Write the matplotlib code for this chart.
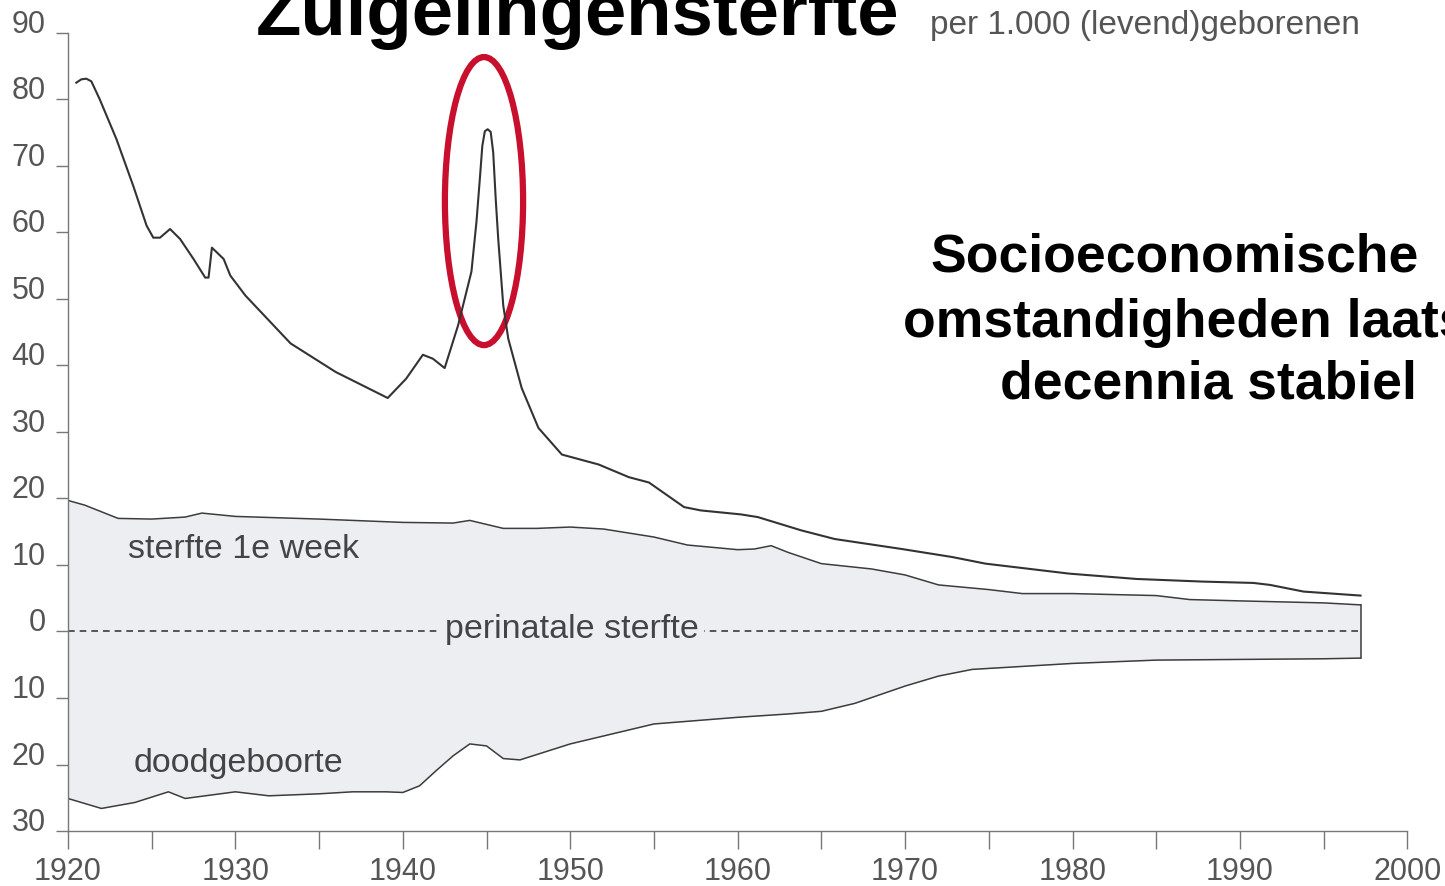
import matplotlib.pyplot as plt
from matplotlib.patches import Ellipse

plt.rcParams['font.family'] = ['Liberation Sans', 'DejaVu Sans']

# zuigelingensterfte (per 1000 levendgeborenen)
inf_years = [1920.5, 1920.8, 1921.1, 1921.4, 1921.9, 1922.9, 1923.9, 1924.7, 1925.1, 1925.5,
             1926.1, 1926.7, 1927.5, 1928.2, 1928.4, 1928.6, 1929.3, 1929.7, 1930.6,
             1933.3, 1936, 1939.1, 1940.2, 1941.2, 1941.8, 1942.5, 1943.3, 1944.1,
             1944.4, 1944.6, 1944.75, 1944.9, 1945.07, 1945.25, 1945.4, 1945.55, 1945.7,
             1946.0, 1946.3, 1947.1, 1948.1, 1949.5, 1951.7, 1953.5, 1954.7, 1956.8,
             1957.8, 1960.2, 1961.2, 1963.8, 1965.8, 1969.8, 1972.8, 1974.8, 1979.8,
             1983.8, 1987.8, 1990.8, 1991.8, 1993.8, 1997.2]
inf_vals = [82.5, 83.0, 83.1, 82.7, 80, 74, 67, 61, 59.2, 59.2,
            60.5, 59, 56, 53.2, 53.2, 57.7, 56, 53.5, 50.5,
            43.3, 39.0, 35.1, 38.0, 41.6, 41.0, 39.6, 46, 54.1,
            61.6, 68, 73, 75.2, 75.5, 75.1, 72, 65, 59,
            49, 44, 36.6, 30.6, 26.6, 25.1, 23.2, 22.4, 18.7,
            18.2, 17.6, 17.2, 15.2, 13.9, 12.4, 11.2, 10.2, 8.7,
            7.9, 7.5, 7.3, 7.0, 6.0, 5.4]

# sterfte 1e week (boven de nullijn)
week_years = [1920, 1921, 1923, 1925, 1927, 1928, 1930, 1935, 1940, 1943, 1944,
              1946, 1948, 1950, 1952, 1955, 1957, 1960, 1961, 1962, 1963, 1965,
              1968, 1970, 1972, 1975, 1977, 1980, 1985, 1987, 1990, 1995, 1997.2]
week_vals = [19.7, 19.0, 17.0, 16.9, 17.2, 17.8, 17.3, 16.9, 16.4, 16.3, 16.7,
             15.5, 15.5, 15.7, 15.4, 14.2, 13.0, 12.3, 12.4, 12.9, 11.9, 10.2,
             9.4, 8.5, 7.0, 6.3, 5.7, 5.7, 5.4, 4.8, 4.6, 4.3, 4.0]

# doodgeboorte (onder de nullijn)
still_years = [1920, 1922, 1924, 1926, 1927, 1930, 1932, 1935, 1937, 1939, 1940,
               1941, 1942, 1943, 1944, 1945, 1946, 1947, 1950, 1955, 1960, 1963,
               1965, 1967, 1970, 1972, 1974, 1980, 1985, 1990, 1995, 1997.2]
still_vals = [-25.1, -26.6, -25.7, -24.1, -25.1, -24.1, -24.7, -24.4, -24.1, -24.1, -24.2,
              -23.2, -20.9, -18.7, -16.9, -17.2, -19.1, -19.3, -16.9, -13.9, -12.9, -12.4,
              -12.0, -10.8, -8.2, -6.7, -5.7, -4.8, -4.3, -4.2, -4.1, -4.0]

yticks = [-30, -20, -10, 0, 10, 20, 30, 40, 50, 60, 70, 80, 90]
yticklabels = ['30', '20', '10', '0', '10', '20', '30', '40', '50', '60', '70', '80', '90']
xticks = [1920, 1930, 1940, 1950, 1960, 1970, 1980, 1990, 2000]

grey = '#3c3c3c'
fill_col = '#eceef2'

fig = plt.figure(figsize=(14.45, 8.86), dpi=100)
ax = fig.add_axes([0.047, 0.062, 0.927, 0.901])

ax.fill_between(week_years, week_vals, 0, color=fill_col, lw=0)
ax.fill_between(still_years, still_vals, 0, color=fill_col, lw=0)
ax.plot(week_years, week_vals, color=grey, lw=1.1, solid_joinstyle='round')
ax.plot(still_years, still_vals, color=grey, lw=1.1, solid_joinstyle='round')
ax.plot([week_years[-1], still_years[-1]], [week_vals[-1], still_vals[-1]], color=grey, lw=1.1)
ax.plot([week_years[0], week_years[-1]], [0, 0], color=grey, lw=1.2, linestyle=(0, (4, 3)))
ax.plot(inf_years, inf_vals, color='#333333', lw=1.5, solid_joinstyle='round')

txt = dict(color='#444444', fontsize=24.5)
ax.text(1923.6, 12.3, 'sterfte 1e week', ha='left', va='center', **txt)
ax.text(1923.9, -19.9, 'doodgeboorte', ha='left', va='center', **txt)
ax.text(1942.5, 0.3, 'perinatale sterfte', ha='left', va='center',
        bbox=dict(facecolor=fill_col, edgecolor='none', pad=4), **txt)

ell = Ellipse((1944.85, 64.7), 4.67, 43.3, fill=False, edgecolor='#c8102e', lw=4.5,
              clip_on=False)
ax.add_patch(ell)

ax.set_xlim(1920, 2000)
ax.set_ylim(-30, 90)
ax.set_xticks(xticks)
ax.set_xticks(range(1925, 2000, 10), minor=True)
ax.set_yticks(yticks)
ax.set_yticklabels(yticklabels)
for lab in ax.get_yticklabels():
    lab.set_verticalalignment('baseline')
ax.tick_params(axis='y', direction='out', length=9, width=1, color='#777777',
               labelcolor='#555555', labelsize=22, pad=7)
ax.tick_params(axis='x', which='both', direction='out', length=13, width=1,
               color='#777777', labelcolor='#555555', labelsize=22, pad=6)
for side in ['top', 'right']:
    ax.spines[side].set_visible(False)
for side in ['left', 'bottom']:
    ax.spines[side].set_color('#777777')
    ax.spines[side].set_linewidth(1)

fig.text(0.3995, 0.9605, 'Zuigelingensterfte', ha='center', va='baseline',
         fontsize=53.5, fontweight='bold', color='black')
fig.text(0.6436, 0.9616, 'per 1.000 (levend)geborenen', ha='left', va='baseline',
         fontsize=24, color='#555555')
bold = dict(fontsize=38.5, fontweight='bold', color='black', va='baseline', ha='left')
fig.text(0.6436, (886 - 272) / 886, 'Socioeconomische', **bold)
fig.text(0.6249, (886 - 337) / 886, 'omstandigheden laatste', **bold)
fig.text(0.692, (886 - 399) / 886, 'decennia stabiel', **bold)

fig.savefig('out.png', dpi=100)
